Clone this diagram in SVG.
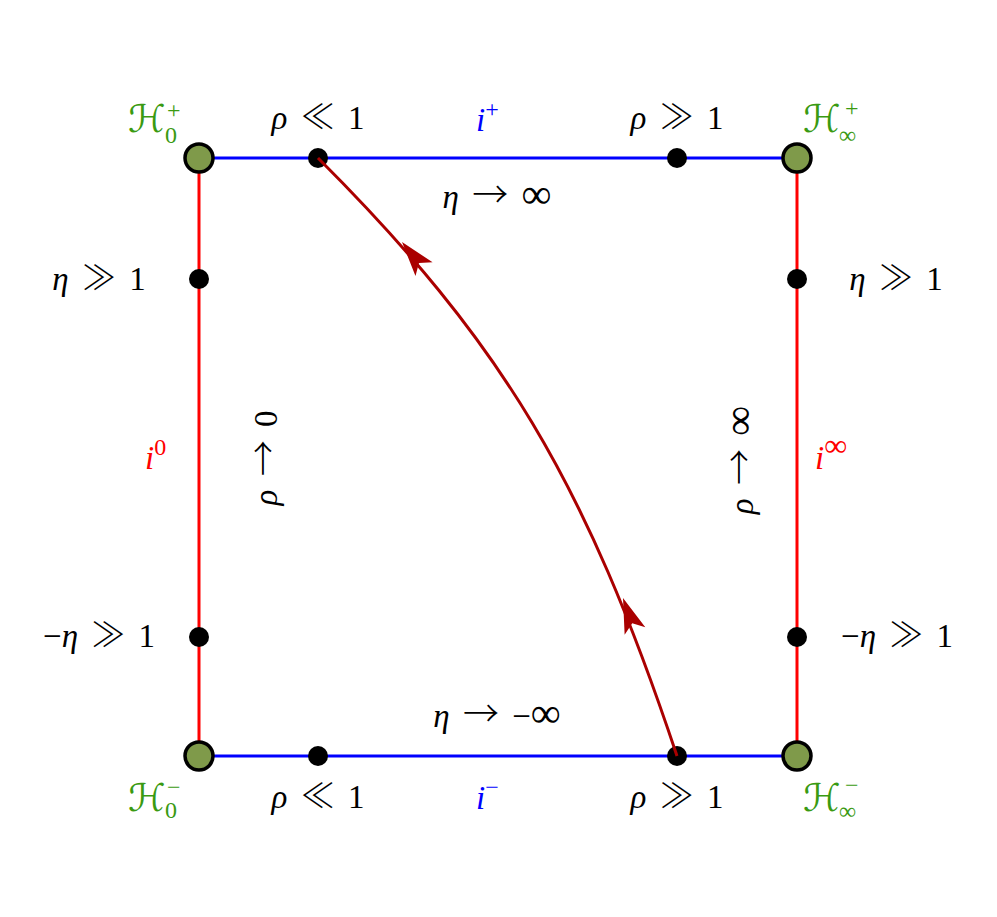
<svg xmlns="http://www.w3.org/2000/svg" width="997" height="917" viewBox="0 0 997 917">
<defs>
<style>
.m{font-family:"Liberation Serif","DejaVu Serif",serif;font-size:33px;fill:#000;word-spacing:5px}
.v{font-style:italic}
.big{font-size:42px}
.ar{font-family:"Noto Sans CJK JP",sans-serif;font-size:36px;font-weight:300}
.rel{font-family:"Noto Sans CJK JP","DejaVu Sans",sans-serif;font-size:34px;font-weight:300}
.g{fill:#3a9a12}
.hb{font-family:"DejaVu Sans","Noto Sans",sans-serif;font-style:italic;font-size:38px;fill:#3a9a12}
.sc{font-family:"Liberation Serif","DejaVu Serif",serif;font-size:24px}
.blue{stroke:#0000ff;stroke-width:3;fill:none}
.red{stroke:#ff0000;stroke-width:3;fill:none}
.dot{fill:#000}
.corner{fill:#7f9a4a;stroke:#000;stroke-width:3.5}
</style>
<path id="ah" d="M0 0 L-35 -11 L-27 0 L-35 11 Z" fill="#aa0000"/>
</defs>
<rect width="997" height="917" fill="#fff"/>
<g id="connectors">
<line class="blue" x1="199" y1="158" x2="797" y2="158"/>
<line class="blue" x1="199" y1="756" x2="797" y2="756"/>
<line class="red" x1="199" y1="158" x2="199" y2="756"/>
<line class="red" x1="797" y1="158" x2="797" y2="756"/>
</g>
<g id="points">
<circle class="dot" cx="318" cy="158" r="10"/>
<circle class="dot" cx="677" cy="158" r="10"/>
<circle class="dot" cx="318" cy="756" r="10"/>
<circle class="dot" cx="677" cy="756" r="10"/>
<circle class="dot" cx="199" cy="279" r="10"/>
<circle class="dot" cx="797" cy="279" r="10"/>
<circle class="dot" cx="199" cy="637" r="10"/>
<circle class="dot" cx="797" cy="637" r="10"/>
</g>
<g id="trajectory">
<path d="M677 756 C585 480 502 342 318 158" stroke="#aa0000" stroke-width="3" fill="none"/>
<use href="#ah" transform="translate(623 598) rotate(250)"/>
<use href="#ah" transform="translate(402 242) rotate(231)"/>
</g>
<g id="corner-H0p"><circle class="corner" cx="199" cy="158" r="14"/>
<text class="hb" x="128" y="132">ℋ</text><text class="sc g" x="165" y="143">0</text><text class="sc g" x="167" y="118">+</text></g>
<g id="corner-Hinfp"><circle class="corner" cx="797" cy="158" r="14"/>
<text class="hb" x="803" y="132">ℋ</text><text class="sc g" x="839" y="143" font-size="32">∞</text><text class="sc g" x="845" y="116">+</text></g>
<g id="corner-H0m"><circle class="corner" cx="199" cy="756" r="14"/>
<text class="hb" x="128" y="811">ℋ</text><text class="sc g" x="165" y="818">0</text><text class="sc g" x="167" y="795">−</text></g>
<g id="corner-Hinfm"><circle class="corner" cx="797" cy="756" r="14"/>
<text class="hb" x="803" y="811">ℋ</text><text class="sc g" x="839" y="819" font-size="32">∞</text><text class="sc g" x="845" y="793">−</text></g>
<g id="labels">
<text class="m" x="318" y="129" text-anchor="middle"><tspan class="v">ρ</tspan> <tspan class="rel">≪</tspan> 1</text>
<text class="m" x="677" y="129" text-anchor="middle"><tspan class="v">ρ</tspan> <tspan class="rel">≫</tspan> 1</text>
<text class="m" x="318" y="808" text-anchor="middle"><tspan class="v">ρ</tspan> <tspan class="rel">≪</tspan> 1</text>
<text class="m" x="677" y="808" text-anchor="middle"><tspan class="v">ρ</tspan> <tspan class="rel">≫</tspan> 1</text>
<text class="m" x="497" y="208" text-anchor="middle"><tspan class="v">η</tspan> <tspan class="ar">→</tspan> <tspan class="big">∞</tspan></text>
<text class="m" x="497" y="727" text-anchor="middle"><tspan class="v">η</tspan> <tspan class="ar">→</tspan> −<tspan class="big">∞</tspan></text>
<text class="m" x="99" y="290" text-anchor="middle"><tspan class="v">η</tspan> <tspan class="rel">≫</tspan> 1</text>
<text class="m" x="896" y="290" text-anchor="middle"><tspan class="v">η</tspan> <tspan class="rel">≫</tspan> 1</text>
<text class="m" x="99" y="647" text-anchor="middle">−<tspan class="v">η</tspan> <tspan class="rel">≫</tspan> 1</text>
<text class="m" x="897" y="647" text-anchor="middle">−<tspan class="v">η</tspan> <tspan class="rel">≫</tspan> 1</text>
<text class="m" transform="translate(277 458) rotate(-90)" text-anchor="middle"><tspan class="v">ρ</tspan> <tspan class="ar">→</tspan> 0</text>
<text class="m" transform="translate(753 460) rotate(-90)" text-anchor="middle"><tspan class="v">ρ</tspan> <tspan class="ar">→</tspan> <tspan class="big">∞</tspan></text>
<text class="m" x="476" y="131" fill="#0000ff"><tspan class="v" fill="#0000ff">i</tspan><tspan font-size="24" dy="-14" fill="#0000ff">+</tspan></text>
<text class="m" x="476" y="809" fill="#0000ff"><tspan class="v" fill="#0000ff">i</tspan><tspan font-size="24" dy="-14" fill="#0000ff">−</tspan></text>
<text class="m" x="145" y="469" fill="#ff0000"><tspan class="v" fill="#ff0000">i</tspan><tspan font-size="24" dy="-14" fill="#ff0000">0</tspan></text>
<text class="m" x="815" y="469" fill="#ff0000"><tspan class="v" fill="#ff0000">i</tspan><tspan font-size="32" dy="-13" fill="#ff0000">∞</tspan></text>
</g>
</svg>
